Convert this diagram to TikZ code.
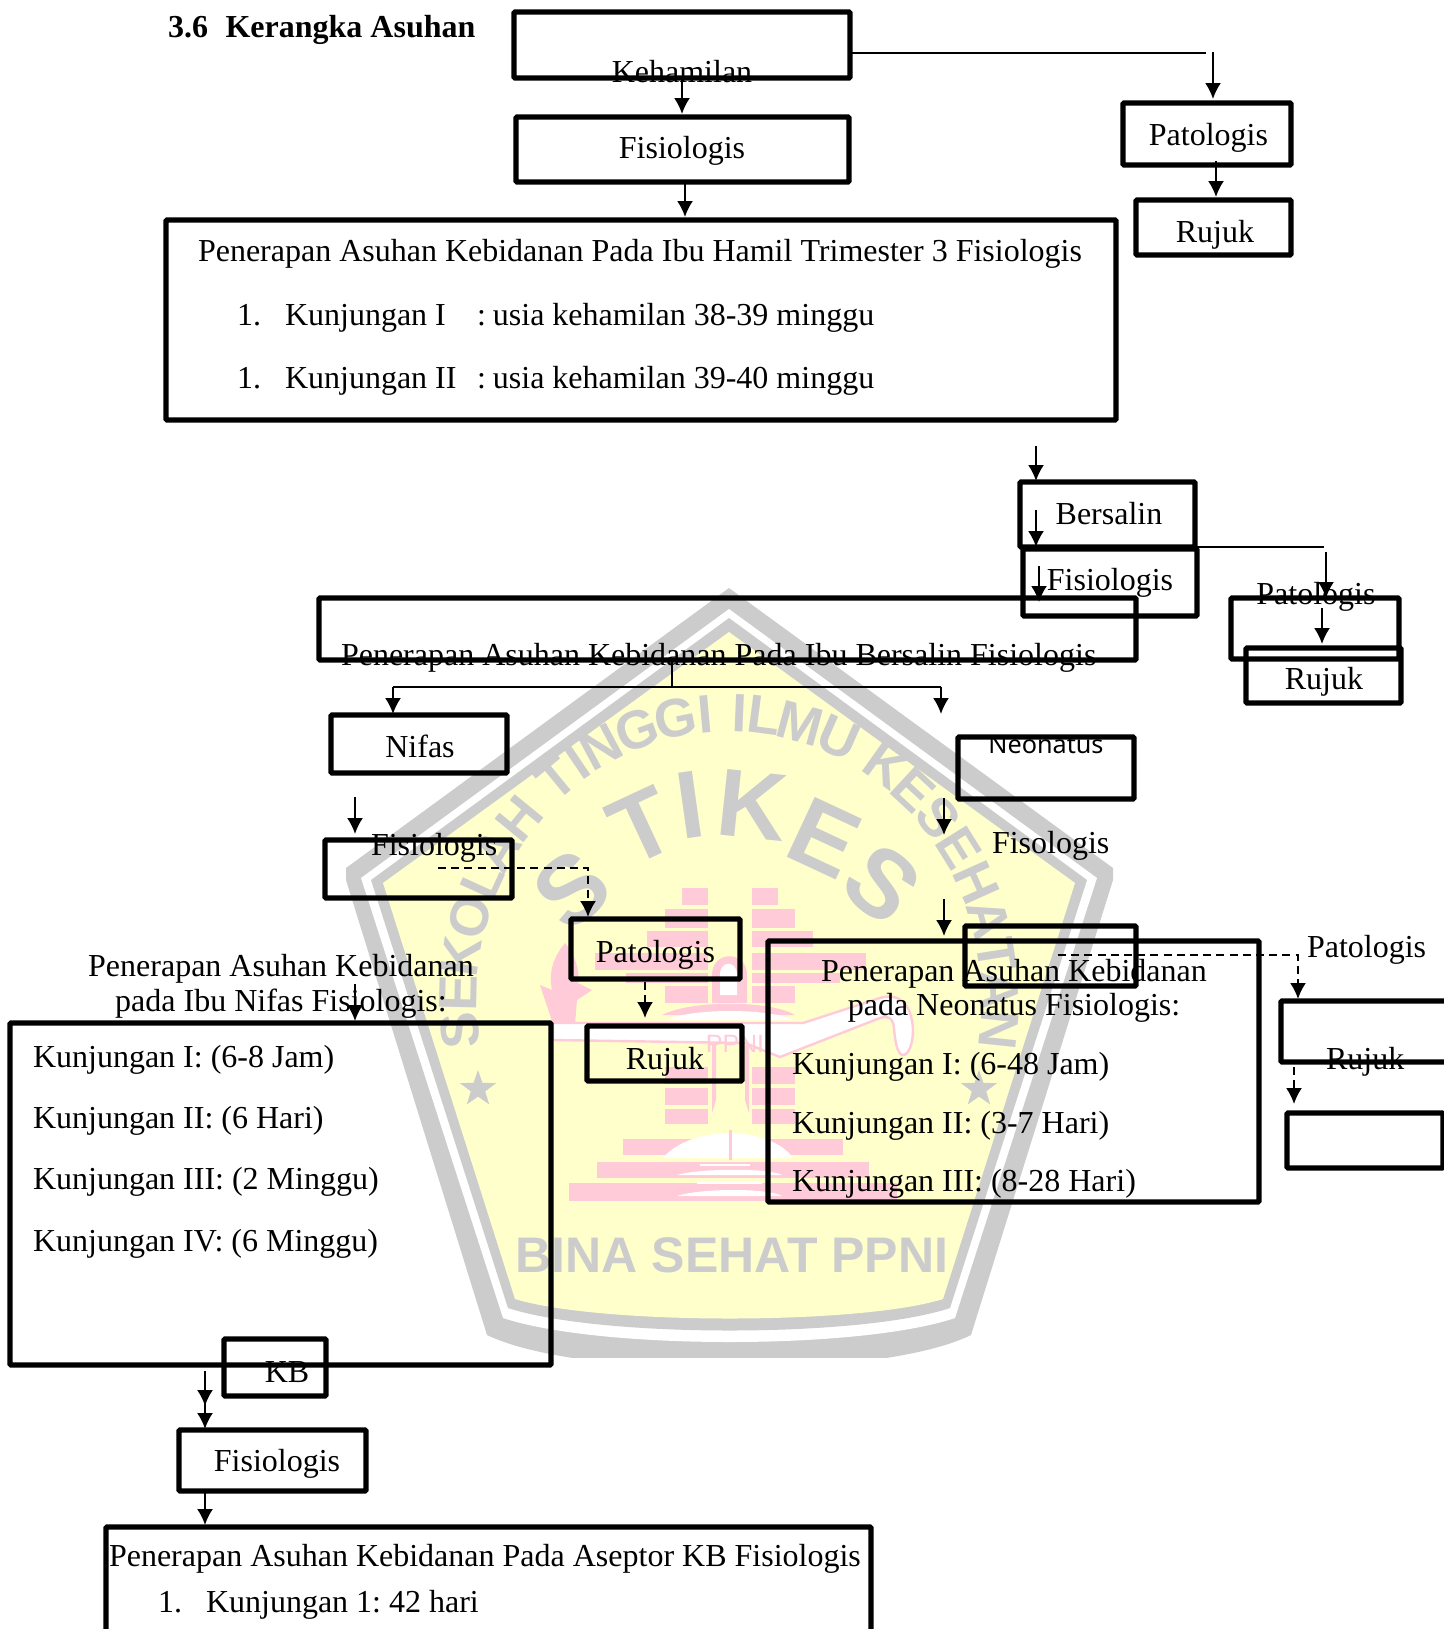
\documentclass[tikz,border=0pt]{standalone}
\usepackage{fontspec}
\setmainfont{Liberation Serif}
\newfontfamily\wmfont{Liberation Sans}
\newfontfamily\neofont{Noto Sans}
\usetikzlibrary{arrows.meta,shapes.geometric}
\definecolor{wmgray}{HTML}{CCCCCC}
\definecolor{wmyellow}{HTML}{FFFFCC}
\definecolor{wmpink}{HTML}{FFCBD8}
\tikzset{
  boxst/.style={draw=black,line width=2.6pt,inner sep=0pt,outer sep=0pt,rounded corners=0.5pt},
  txt/.style={inner sep=0pt,outer sep=0pt,font=\fontsize{16}{18}\selectfont,text=black},
  arr/.style={draw=black,line width=1pt,-{Latex[length=8pt,width=8pt]}},
  darr/.style={draw=black,line width=1pt,dash pattern=on 4pt off 2.6pt,-{Latex[length=8pt,width=8pt]}},
  ln/.style={draw=black,line width=1pt},
  arcl/.style={inner sep=0pt,outer sep=0pt,text=wmgray,font=\fontsize{27}{28}\wmfont\bfseries\selectfont},
  bigl/.style={inner sep=0pt,outer sep=0pt,text=wmgray,font=\fontsize{48}{50}\wmfont\bfseries\selectfont},
  brick/.style={fill=wmpink,draw=none},
  wmstar/.style={star,star points=5,star point ratio=2.5,fill=wmgray,draw=none,minimum size=19pt,inner sep=0pt}
}
\newcommand{\bx}[5]{%
  \pgfmathsetmacro\bxcx{(#2+#4)/2}\pgfmathsetmacro\bxcy{(#3+#5)/2}%
  \pgfmathsetmacro\bxw{(#4-#2)*0.5}\pgfmathsetmacro\bxh{(#5-#3)*0.5}%
  \node[boxst,minimum width=\bxw pt,minimum height=\bxh pt] (#1) at (\bxcx,\bxcy) {};}
\newcommand{\tc}[4]{\node[txt,anchor=base] (#1) at (#2,#3) {#4};}
\newcommand{\tl}[4]{\node[txt,anchor=base west] (#1) at (#2,#3) {#4};}
\newcommand{\varr}[5]{\coordinate (#1a) at (#3,#4);\coordinate (#1b) at (#3,#5);\draw[#2] (#1a) -- (#1b);}
\begin{document}
\begin{tikzpicture}[x=0.5pt,y=-0.5pt]
\useasboundingbox (0,0) rectangle (1444,1629);
% ---------- watermark ----------
\begin{scope}
\clip (300,560) rectangle (1160,1357);
\fill[wmgray] (729,588) -- (1113,868) -- (1113,880) -- (971,1335) .. controls (880,1380) and (580,1380) .. (487,1335) -- (346,880) -- (346,868) -- cycle;
\fill[white] (729,609) -- (1097,878) -- (955,1318) .. controls (860,1350) and (600,1350) .. (503,1318) -- (361,878) -- cycle;
\fill[wmgray] (729,618) -- (1087,880) -- (950,1308) .. controls (860,1338) and (600,1338) .. (508,1308) -- (371,880) -- cycle;
\fill[wmyellow] (729,632) -- (1075,883) -- (943,1299) .. controls (860,1325) and (600,1325) .. (515,1299) -- (383,883) -- cycle;
\end{scope}
% logo bricks
\foreach \a/\b/\c/\d in {682/888/708/905,665/909/708/928,647/931/708/947,595/953/708/970,626/973/708/983,665/986/708/1003,
 752/888/778/905,752/909/795/928,752/931/813/947,752/953/866/970,752/973/840/983,752/986/795/1003,
 665/1067/708/1084,665/1088/708/1105,665/1109/708/1124,752/1067/795/1084,752/1088/795/1105,752/1109/795/1124,
 623/1139/843/1155,597/1162/869/1178,569/1183/897/1201}
  \fill[brick] (\a,\b) rectangle (\c,\d);
% arch
\fill[wmpink] (712,1003) -- (712,975) .. controls (712,950) and (747,950) .. (747,975) -- (747,1003) -- cycle;
\fill[white] (720,995) -- (720,975) .. controls (720,960) and (737,960) .. (737,975) -- (737,995) -- cycle;
% flame
\fill[wmpink] (553,1024) -- (540,985) -- (552,990) .. controls (548,970) and (555,955) .. (565,943) .. controls (575,955) and (580,970) .. (578,983) -- (592,990) -- (577,1000) -- (575,1024) -- cycle;
% lamp
\fill[wmpink] (662,1015) .. controls (690,1000) and (770,1000) .. (795,1015) -- cycle;
\filldraw[draw=wmpink,fill=white,line width=1.2pt] (553,1023) -- (803,1023) -- (880,998) .. controls (900,992) and (912,1005) .. (913,1030) .. controls (913,1045) and (908,1055) .. (903,1055) .. controls (897,1055) and (895,1040) .. (894,1028) .. controls (893,1018) and (888,1015) .. (880,1018) -- (780,1057) -- (745,1043) -- (553,1040) -- cycle;
\fill[white] (667,1020) .. controls (690,1008) and (770,1008) .. (793,1020) -- cycle;
% stem
\fill[wmpink] (712,1045) -- (716,1045) -- (716,1100) -- (712,1113) -- cycle;
\fill[wmpink] (745,1045) -- (749,1045) -- (749,1113) -- (745,1100) -- cycle;
% dome
\fill[white] (663,1158) .. controls (690,1125) and (770,1125) .. (793,1158) -- cycle;
\fill[wmpink] (729,1130) rectangle (732,1160);
\fill[white] (677,1175) .. controls (700,1168) and (770,1168) .. (782,1175) -- cycle;
\fill[white] (700,1164) rectangle (750,1166);
\fill[white] (697,1181) rectangle (762,1184);
\fill[white] (677,1196) .. controls (700,1188) and (770,1188) .. (782,1196) -- cycle;
\node[inner sep=0pt,text=wmpink,font=\fontsize{12.5}{14}\wmfont\selectfont] (wmppni) at (735,1044) {PPNI};
% arc text
\foreach \l/\t in {S/-96.2,E/-88.7,K/-81.2,O/-73.1,L/-65.5,A/-58.5,H/-50.7,T/-39.5,I/-34.1,N/-28.2,G/-19.9,G/-11.3,I/-5.1,I/2.3,L/7.4,M/15.2,U/23.9,K/35.4,E/42.9,S/50.5,E/58.0,H/65.8,A/73.6,T/80.9,A/88.1,N/96.0}
  \node[arcl,rotate=-\t] at ({729+271*sin(\t)},{1000-287*cos(\t)}) {\l};
% STIKES
\node[bigl,rotate=40] (wmS) at (572,890) {S};
\node[bigl,rotate=25] (wmT) at (642,826) {T};
\node[bigl,rotate=8] (wmI) at (690,805) {I};
\node[bigl,rotate=-6] (wmK) at (752,805) {K};
\node[bigl,rotate=-25] (wmE) at (824,838) {E};
\node[bigl,rotate=-40] (wmSb) at (882,884) {S};
\node[inner sep=0pt,text=wmgray,font=\fontsize{25}{26}\wmfont\bfseries\selectfont,anchor=base] (wmbina) at (732,1272) {BINA SEHAT PPNI};
\node[wmstar] (wmstarL) at (478,1089) {};
\node[wmstar] (wmstarR) at (979,1089) {};
% ---------- title ----------
\node[txt,anchor=base west,font=\fontsize{16}{18}\bfseries\selectfont] (title) at (168,37) {3.6\hspace{0.55em}Kerangka Asuhan};
% ---------- boxes ----------
\bx{keh}{514}{12}{850}{78}
\bx{fis}{516}{117}{849}{182}
\bx{pat}{1123}{103}{1291}{165}
\bx{ruj}{1136}{200}{1291}{255}
\bx{asuhan}{166}{220}{1116}{420}
\bx{ber}{1020}{482}{1195}{547}
\bx{fisb}{1023}{549}{1197}{616}
\bx{patb}{1231}{598}{1399}{659}
\bx{rujb}{1246}{648}{1401}{703}
\bx{asuhb}{319}{598}{1136}{660}
\bx{nif}{331}{715}{507}{773}
\bx{fisn}{325}{840}{512}{898}
\bx{patn}{571}{919}{740}{979}
\bx{rujn}{587}{1026}{742}{1081}
\bx{asuhn}{10}{1023}{551}{1365}
\bx{neo}{958}{737}{1134}{799}
\bx{fisneo}{965}{926}{1136}{986}
\bx{asuhneo}{768}{941}{1259}{1202}
\bx{patneo}{1281}{1001}{1470}{1062}
\bx{rujneo}{1287}{1113}{1443}{1168}
\bx{kb}{224}{1339}{326}{1396}
\bx{fisk}{179}{1430}{366}{1491}
\bx{asuhk}{106}{1527}{871}{1660}
% ---------- text ----------
\tc{tkeh}{682}{82}{Kehamilan}
\tc{tfis}{682}{158}{Fisiologis}
\tc{tpat}{1208.5}{145}{Patologis}
\tc{truj}{1215}{242}{Rujuk}
\tl{ta0}{198}{261}{Penerapan Asuhan Kebidanan Pada Ibu Hamil Trimester 3 Fisiologis}
\tl{ta1}{237}{325}{1.}
\tl{ta2}{285}{325}{Kunjungan I}
\tl{ta3}{477}{325}{:\hspace{0.22em}usia kehamilan 38-39 minggu}
\tl{ta4}{237}{388}{1.}
\tl{ta5}{285}{388}{Kunjungan II}
\tl{ta6}{477}{388}{:\hspace{0.22em}usia kehamilan 39-40 minggu}
\tc{tber}{1109}{524}{Bersalin}
\tc{tfisb}{1110}{590}{Fisiologis}
\tc{tpatb}{1316}{604}{Patologis}
\tc{trujb}{1324}{689}{Rujuk}
\tl{tasb}{341}{665}{Penerapan Asuhan Kebidanan Pada Ibu Bersalin Fisiologis}
\tc{tnif}{420}{757}{Nifas}
\tl{tfisn}{371}{855}{Fisiologis}
\tc{tpatn}{655.5}{962}{Patologis}
\tc{trujn}{665}{1069}{Rujuk}
\tc{tn1}{281}{976}{Penerapan Asuhan Kebidanan}
\tc{tn2}{281}{1011}{pada Ibu Nifas Fisiologis:}
\tl{tn3}{33}{1067}{Kunjungan I: (6-8 Jam)}
\tl{tn4}{33}{1128}{Kunjungan II: (6 Hari)}
\tl{tn5}{33}{1189}{Kunjungan III: (2 Minggu)}
\tl{tn6}{33}{1251}{Kunjungan IV: (6 Minggu)}
\begin{scope}
\clip (958,737) rectangle (1134,799);
\node[inner sep=0pt,anchor=base,font=\fontsize{12.6}{14}\neofont\selectfont] (tneo) at (1046,753) {Neonatus};
\end{scope}
\tl{tfneo}{992}{853}{Fisologis}
\tc{tneo1}{1014}{981}{Penerapan Asuhan Kebidanan}
\tc{tneo2}{1014}{1015}{pada Neonatus Fisiologis:}
\tl{tneo3}{792}{1074}{Kunjungan I: (6-48 Jam)}
\tl{tneo4}{792}{1133}{Kunjungan II: (3-7 Hari)}
\tl{tneo5}{792}{1191}{Kunjungan III: (8-28 Hari)}
\tl{tpneo}{1307}{957}{Patologis}
\tl{trneo}{1326}{1069}{Rujuk}
\tc{tkb}{287}{1382}{KB}
\tc{tfk}{277}{1471}{Fisiologis}
\tl{tk0}{109}{1566}{Penerapan Asuhan Kebidanan Pada Aseptor KB Fisiologis}
\tl{tk1}{158}{1612}{1.}
\tl{tk2}{206}{1612}{Kunjungan 1:\hspace{0.25em}42 hari}
% ---------- connectors ----------
\varr{c1}{arr}{682}{78}{114}
\varr{c2}{arr}{685}{182}{217}
\coordinate (c3e) at (1206,53);
\draw[ln] (keh.east |- c3e) -- (c3e);
\varr{c4}{arr}{1213}{52}{99}
\varr{c5}{arr}{1216}{161}{197}
\varr{c6}{arr}{1036}{446}{481}
\varr{c7}{arr}{1036}{510}{547}
\varr{c8}{arr}{1039}{566}{602}
\coordinate (c9e) at (1324,547);
\draw[ln] (ber.east |- c9e) -- (c9e);
\varr{c10}{arr}{1326}{552}{598}
\varr{c11}{arr}{1322}{608}{644}
\coordinate (c12a) at (672,661);\coordinate (c12b) at (672,687);
\draw[ln] (c12a) -- (c12b);
\coordinate (c13a) at (393,687);\coordinate (c13b) at (393,714);
\coordinate (c14a) at (941,687);\coordinate (c14b) at (941,714);
\draw[ln] (c13a) -- (c14a);
\draw[arr] (c13a) -- (c13b);
\draw[arr] (c14a) -- (c14b);
\varr{c15}{arr}{355}{797}{834}
\coordinate (d1a) at (438,868);\coordinate (d1b) at (588,868);\coordinate (d1c) at (588,917);
\draw[darr] (d1a) -- (d1b) -- (d1c);
\varr{c16}{darr}{645}{982}{1018}
\varr{c17}{arr}{355}{984}{1021}
\varr{c18}{arr}{944}{798}{835}
\varr{c19}{arr}{944}{899}{936}
\coordinate (d2a) at (1058,955);\coordinate (d2b) at (1298,955);\coordinate (d2c) at (1298,999);
\draw[darr] (d2a) -- (d2b) -- (d2c);
\varr{c20}{darr}{1294}{1067}{1104}
\varr{c21}{arr}{205}{1371}{1406}
\varr{c22}{arr}{205}{1395}{1429}
\varr{c23}{arr}{205}{1491}{1525}
\end{tikzpicture}
\end{document}
